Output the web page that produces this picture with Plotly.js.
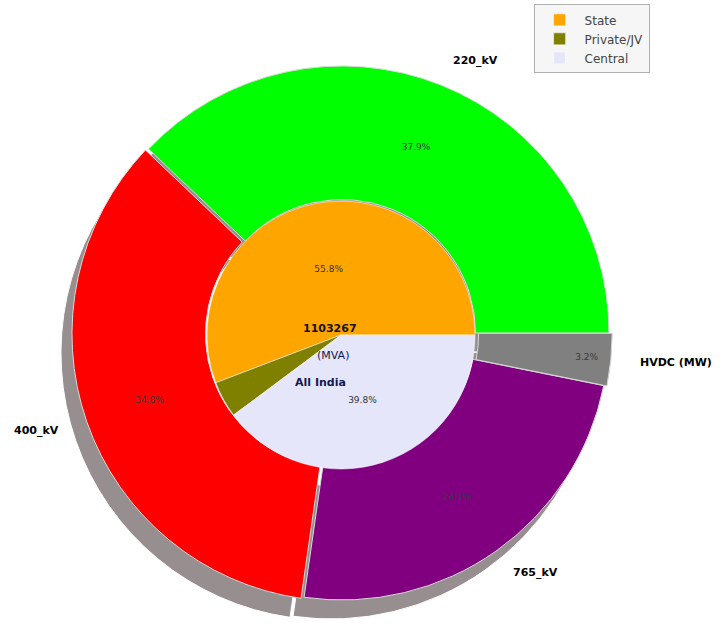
<!DOCTYPE html>
<html>
<head>
<meta charset="utf-8">
<script src="https://cdn.plot.ly/plotly-3.0.1.min.js"></script>
<style>
  html, body { margin: 0; padding: 0; background: #ffffff; }
  #chart { width: 726px; height: 624px; }
</style>
</head>
<body>
<div id="chart"></div>
<script>
// Transformation capacity by voltage level (outer ring)
const voltageLabels = ['220_kV', '400_kV', '765_kV', 'HVDC (MW)'];
const voltageValues = [418150, 384270, 266000, 34847];
const voltageColors = ['#00ff00', '#ff0000', '#800080', '#808080'];
const voltagePull = [0, 0.012, 0, 0.012];

// Share by ownership sector (inner pie)
const sectorLabels = ['State', 'Private/JV', 'Central'];
const sectorValues = [55.8, 4.4, 39.8];
const sectorColors = ['#ffa500', '#808000', '#e6e6fa'];

// Centre caption
const centreLines = ['(MVA)', 'All India'];

const W = 726, H = 624;
// ring geometry in pixels
const cx = 342, cy = 333, R = 267;
const innerCx = 341, innerCy = 335, innerR = 134;
const shadowDx = -11, shadowDy = 19;

const sum = arr => arr.reduce((a, b) => a + b, 0);

// Slices run counterclockwise from 3 o'clock; in plotly's counterclockwise mode
// the first slice ends at `rotation`, so rotate by the first slice's sweep.
function startRotation(values) {
  return 90 - values[0] / sum(values) * 360;
}

const maxPull = Math.max.apply(null, voltagePull);
function domainFor(x0, y0, r, pull) {
  const rd = r * (1 + pull);
  return {
    x: [(x0 - rd) / W, (x0 + rd) / W],
    y: [1 - (y0 + rd) / H, 1 - (y0 - rd) / H]
  };
}

const outerRotation = startRotation(voltageValues);
const innerRotation = startRotation(sectorValues);

const shadow = {
  type: 'pie', sort: false, direction: 'counterclockwise', rotation: outerRotation,
  labels: voltageLabels, values: voltageValues, pull: voltagePull,
  hole: 0.5, showlegend: false, textinfo: 'none', hoverinfo: 'skip',
  marker: { colors: voltageLabels.map(() => '#978f8f'), line: { color: '#ffffff', width: 1 } },
  domain: domainFor(cx + shadowDx, cy + shadowDy, R, maxPull)
};

const outer = {
  type: 'pie', sort: false, direction: 'counterclockwise', rotation: outerRotation,
  labels: voltageLabels, values: voltageValues, pull: voltagePull,
  hole: 0.5, showlegend: false,
  texttemplate: '%{percent:.1%}', textposition: 'inside',
  insidetextorientation: 'horizontal',
  textfont: { family: 'DejaVu Sans', size: 9, color: '#3a3a3a' },
  marker: { colors: voltageColors, line: { color: '#d8d8d8', width: 1 } },
  domain: domainFor(cx, cy, R, maxPull)
};

const inner = {
  type: 'pie', sort: false, direction: 'counterclockwise', rotation: innerRotation,
  labels: sectorLabels, values: sectorValues,
  texttemplate: ['%{percent:.1%}', '', '%{percent:.1%}'], textposition: 'inside',
  insidetextorientation: 'horizontal',
  textfont: { family: 'DejaVu Sans', size: 9, color: '#333333' },
  marker: { colors: sectorColors, line: { color: '#ffffff', width: 0.5 } },
  domain: domainFor(innerCx, innerCy, innerR, 0)
};

// Outer labels placed at 1.1 R along each slice's mid-angle
const total = sum(voltageValues);
const annotations = [];
let acc = 0;
voltageValues.forEach((v, i) => {
  const mid = (acc + v / 2) / total * 2 * Math.PI;
  acc += v;
  const rr = R * (1 + voltagePull[i]) * 1.1;
  const px = cx + rr * Math.cos(mid);
  const py = cy - rr * Math.sin(mid);
  annotations.push({
    x: px / W, y: 1 - py / H, xref: 'paper', yref: 'paper',
    text: '<b>' + voltageLabels[i] + '</b>', showarrow: false,
    xanchor: Math.cos(mid) >= 0 ? 'left' : 'right', yanchor: 'middle',
    font: { family: 'DejaVu Sans', size: 11, color: '#000000' }
  });
});

// centre caption: total, unit, region
const captionText = [String(total)].concat(centreLines);
const captionPos = [[330, 328], [333, 355], [320, 382]];
const captionColor = ['#1a1208', '#101a50', '#101a50'];
captionText.forEach((t, i) => {
  annotations.push({
    x: captionPos[i][0] / W, y: 1 - captionPos[i][1] / H, xref: 'paper', yref: 'paper',
    text: i === 1 ? t : '<b>' + t + '</b>', showarrow: false,
    xanchor: 'center', yanchor: 'middle',
    font: { family: 'DejaVu Sans', size: 11, color: captionColor[i] }
  });
});

const layout = {
  width: W, height: H,
  margin: { l: 0, r: 0, t: 0, b: 0 },
  paper_bgcolor: '#ffffff',
  showlegend: true,
  legend: {
    x: 0.735, y: 0.993, xanchor: 'left', yanchor: 'top',
    bgcolor: 'rgba(245,245,245,0.9)', bordercolor: '#b0b0b0', borderwidth: 1,
    font: { family: 'DejaVu Sans', size: 12, color: '#444444' },
    itemwidth: 40
  },
  annotations: annotations
};

Plotly.newPlot('chart', [shadow, outer, inner], layout, { displayModeBar: false, staticPlot: true });
</script>
</body>
</html>
